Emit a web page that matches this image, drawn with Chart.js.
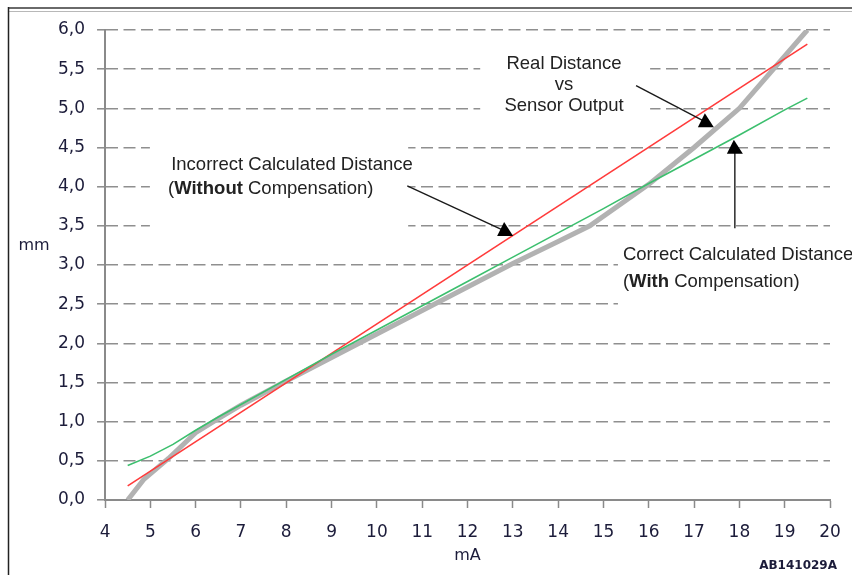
<!DOCTYPE html>
<html>
<head>
<meta charset="utf-8">
<script src="https://cdn.jsdelivr.net/npm/chart.js@4"></script>
<style>
  html, body { margin: 0; padding: 0; background: #fff; }
  #c { display: block; }
</style>
</head>
<body>
<canvas id="c" width="852" height="575"></canvas>
<script>
// ---- data ----
const realX   = [4.5, 4.85, 5.4, 6.0, 6.5, 7.0, 8.0, 9.0, 10.0, 11.0, 12.0, 13.0, 14.0, 14.7, 16.0, 17.0, 18.0, 19.5];
const realY   = [0.0, 0.26, 0.53, 0.86, 1.04, 1.21, 1.52, 1.82, 2.12, 2.42, 2.72, 3.02, 3.3, 3.5, 4.03, 4.5, 5.0, 6.0];
const wrongX  = [4.5, 19.5];
const wrongY  = [0.18, 5.82];
const rightX  = [4.5, 5.0, 5.5, 6.0, 6.5, 7.0, 8.0, 9.0, 10.0, 11.0, 12.0, 13.0, 14.0, 15.0, 16.0, 17.0, 18.0, 19.0, 19.5];
const rightY  = [0.44, 0.56, 0.71, 0.89, 1.06, 1.22, 1.54, 1.86, 2.17, 2.48, 2.79, 3.1, 3.41, 3.72, 4.04, 4.35, 4.66, 4.98, 5.13];
const yTickValues = [0, 0.5, 1, 1.5, 2, 2.5, 3, 3.5, 4, 4.5, 5, 5.5, 6];
const yTickLabels = ['0,0','0,5','1,0','1,5','2,0','2,5','3,0','3,5','4,0','4,5','5,0','5,5','6,0'];
const xTitle = 'mA';
const yTitle = 'mm';
const figureId = 'AB141029A';

const pts = (xs, ys) => xs.map((x, i) => ({ x: x, y: ys[i] }));

// annotations in data coordinates
const boxes = [
  { x0: 4.99, x1: 10.69, y0: 4.72, y1: 3.26 },
  { x0: 12.28, x1: 16.03, y0: 5.74, y1: 4.79 },
  { x0: 15.32, x1: 21.0, y0: 3.32, y1: 2.36 }
];
const texts = [
  { x: 5.46, y: 4.28, align: 'left', parts: [['Incorrect Calculated Distance', false]] },
  { x: 5.39, y: 3.97, align: 'left', parts: [['(', false], ['Without', true], [' Compensation)', false]] },
  { x: 14.13, y: 5.57, align: 'center', parts: [['Real Distance', false]] },
  { x: 14.13, y: 5.30, align: 'center', parts: [['vs', false]] },
  { x: 14.13, y: 5.03, align: 'center', parts: [['Sensor Output', false]] },
  { x: 15.43, y: 3.13, align: 'left', parts: [['Correct Calculated Distance', false]] },
  { x: 15.43, y: 2.78, align: 'left', parts: [['(', false], ['With', true], [' Compensation)', false]] }
];
const arrows = [
  { sx: 10.67, sy: 4.01, tx: 12.83, ty: 3.37 },
  { sx: 15.72, sy: 5.29, tx: 17.26, ty: 4.76 },
  { sx: 17.90, sy: 3.47, tx: 17.90, ty: 4.42 }
];

const TXT_FONT = 'Liberation Sans, Arial, sans-serif';
const TXT_SIZE = '18.5px ';

const annoPlugin = {
  id: 'anno',
  beforeDraw(chart) {
    const ctx = chart.ctx;
    ctx.save();
    ctx.fillStyle = '#fff';
    ctx.fillRect(0, 0, chart.width, chart.height);
    // frame
    ctx.strokeStyle = '#6a6a6a'; ctx.lineWidth = 2;
    ctx.beginPath(); ctx.moveTo(8, 8); ctx.lineTo(chart.width, 8); ctx.stroke();
    ctx.strokeStyle = '#b8b8b8'; ctx.lineWidth = 1;
    ctx.beginPath(); ctx.moveTo(8, 11.5); ctx.lineTo(chart.width, 11.5); ctx.stroke();
    ctx.strokeStyle = '#222'; ctx.lineWidth = 1.5;
    ctx.beginPath(); ctx.moveTo(8.5, 7); ctx.lineTo(8.5, chart.height); ctx.stroke();
    ctx.restore();
  },
  beforeDatasetsDraw(chart) {
    const ctx = chart.ctx, xs = chart.scales.x, ys = chart.scales.y;
    ctx.save();
    ctx.fillStyle = '#fff';
    boxes.forEach(b => {
      const x0 = xs.getPixelForValue(b.x0), x1 = xs.getPixelForValue(b.x1);
      const y0 = ys.getPixelForValue(b.y0), y1 = ys.getPixelForValue(b.y1);
      ctx.fillRect(x0, y0, x1 - x0, y1 - y0);
    });
    ctx.fillStyle = '#222';
    ctx.textBaseline = 'middle';
    texts.forEach(t => {
      let widths = t.parts.map(p => { ctx.font = (p[1] ? 'bold ' : '') + TXT_SIZE + TXT_FONT; return ctx.measureText(p[0]).width; });
      const total = widths.reduce((a, b) => a + b, 0);
      let x = xs.getPixelForValue(t.x);
      if (t.align === 'center') x -= total / 2;
      const y = ys.getPixelForValue(t.y);
      ctx.textAlign = 'left';
      t.parts.forEach((p, i) => {
        ctx.font = (p[1] ? 'bold ' : '') + TXT_SIZE + TXT_FONT;
        ctx.fillText(p[0], x, y);
        x += widths[i];
      });
    });
    // axis title y (horizontal) and figure id
    ctx.fillStyle = '#1c1c3a';
    ctx.font = '16px DejaVu Sans, sans-serif';
    ctx.textAlign = 'center';
    ctx.fillText(yTitle, chart.chartArea.left - 71, ys.getPixelForValue(3.25));
    ctx.font = 'bold 12px DejaVu Sans, sans-serif';
    ctx.textAlign = 'right';
    ctx.fillText(figureId, chart.width - 15, chart.height - 9);
    ctx.restore();
  },
  afterDatasetsDraw(chart) {
    const ctx = chart.ctx, xs = chart.scales.x, ys = chart.scales.y;
    ctx.save();
    ctx.strokeStyle = '#1a1a1a';
    ctx.fillStyle = '#000';
    ctx.lineWidth = 1.4;
    arrows.forEach(a => {
      const sx = xs.getPixelForValue(a.sx), sy = ys.getPixelForValue(a.sy);
      const bx = xs.getPixelForValue(a.tx), by = ys.getPixelForValue(a.ty);
      ctx.beginPath(); ctx.moveTo(sx, sy); ctx.lineTo(bx, by - 5); ctx.stroke();
      ctx.beginPath();
      ctx.moveTo(bx - 8, by); ctx.lineTo(bx - 1, by - 14); ctx.lineTo(bx + 8, by); ctx.closePath();
      ctx.fill();
    });
    ctx.restore();
  }
};

const tickColor = '#1c1c3a';
new Chart(document.getElementById('c'), {
  type: 'line',
  data: {
    datasets: [
      { label: 'With compensation', data: pts(rightX, rightY), borderColor: '#3cbf6e', borderWidth: 1.6, pointRadius: 0, tension: 0, order: 0 },
      { label: 'Without compensation', data: pts(wrongX, wrongY), borderColor: '#ff3b3b', borderWidth: 1.6, pointRadius: 0, tension: 0, order: 1 },
      { label: 'Real distance', data: pts(realX, realY), borderColor: '#b2b2b2', borderWidth: 5, pointRadius: 0, tension: 0, order: 2 }
    ]
  },
  options: {
    responsive: false,
    animation: false,
    devicePixelRatio: 1,
    layout: { padding: { left: 46, right: 22, top: 30, bottom: 10 } },
    plugins: { legend: { display: false }, tooltip: { enabled: false } },
    scales: {
      x: {
        type: 'linear', min: 4, max: 20,
        afterFit(scale) { scale.height = 65; scale.paddingRight = 11; scale.paddingLeft = 5; },
        ticks: { stepSize: 1, color: tickColor, font: { family: 'DejaVu Sans', size: 17 }, padding: 14, maxRotation: 0, autoSkip: false },
        grid: { drawOnChartArea: false, tickLength: 8, tickColor: '#8a8a8a', tickWidth: 1.5 },
        border: { color: '#8a8a8a', width: 2 },
        title: { display: true, text: xTitle, color: tickColor, font: { family: 'DejaVu Sans', size: 16 }, padding: { top: 0, bottom: 0 } }
      },
      y: {
        type: 'linear', min: 0, max: 6,
        afterBuildTicks(scale) { scale.ticks = yTickValues.map(v => ({ value: v })); },
        ticks: {
          color: tickColor, font: { family: 'DejaVu Sans', size: 17 }, padding: 12,
          callback: (v) => { const i = yTickValues.indexOf(v); return i >= 0 ? yTickLabels[i] : ''; }
        },
        grid: { color: '#8f8f8f', lineWidth: 1.6, tickLength: 8, tickColor: '#8a8a8a', tickWidth: 1.5, tickBorderDash: [] },
        border: { color: '#8a8a8a', width: 2, dash: [12, 5.5] }
      }
    }
  },
  plugins: [annoPlugin]
});
</script>
</body>
</html>
